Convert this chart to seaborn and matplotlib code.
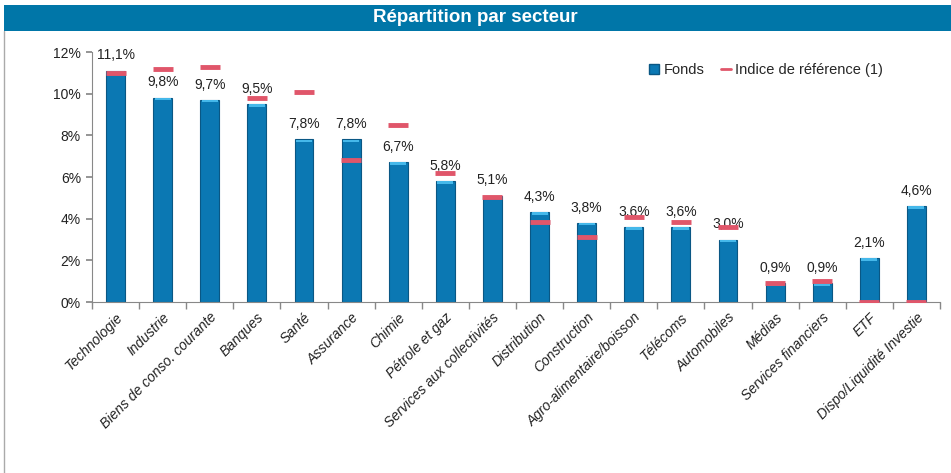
import seaborn as sns
import matplotlib.pyplot as plt
import matplotlib.patches as mpatches
from matplotlib.lines import Line2D

sns.set_theme(style="white")
plt.rcParams['font.family'] = ['Liberation Sans', 'DejaVu Sans']

# Data
sectors = ['Technologie', 'Industrie', 'Biens de conso. courante', 'Banques', 'Santé',
           'Assurance', 'Chimie', 'Pétrole et gaz', 'Services aux collectivités',
           'Distribution', 'Construction', 'Agro-alimentaire/boisson', 'Télécoms',
           'Automobiles', 'Médias', 'Services financiers', 'ETF', 'Dispo/Liquidité Investie']
fonds = [11.1, 9.8, 9.7, 9.5, 7.8, 7.8, 6.7, 5.8, 5.1, 4.3, 3.8, 3.6, 3.6, 3.0, 0.9, 0.9, 2.1, 4.6]
indice = [11.0, 11.2, 11.3, 9.8, 10.1, 6.8, 8.5, 6.2, 5.05, 3.85, 3.1, 4.1, 3.85, 3.6, 0.9, 1.0, 0.0, 0.0]
fonds_labels = ['11,1%', '9,8%', '9,7%', '9,5%', '7,8%', '7,8%', '6,7%', '5,8%', '5,1%',
                '4,3%', '3,8%', '3,6%', '3,6%', '3,0%', '0,9%', '0,9%', '2,1%', '4,6%']
yticks = [0, 2, 4, 6, 8, 10, 12]

bar_color = '#0b78b3'
ref_color = '#e0566a'

fig = plt.figure(figsize=(9.51, 4.73), dpi=100)
ax = fig.add_axes([92/951, 1 - 302/473, 848/951, 250/473])

sns.barplot(x=sectors, y=fonds, width=0.4, color=bar_color, saturation=1,
            edgecolor='#0a5784', linewidth=0.8, ax=ax)
# light cap on top of each bar
sns.barplot(x=sectors, y=[0.12] * len(fonds), bottom=[v - 0.12 for v in fonds], width=0.34,
            color='#45b8ea', saturation=1, linewidth=0, ax=ax)

sns.scatterplot(x=list(range(len(sectors))), y=indice, marker='_', s=190, linewidth=3.5,
                color=ref_color, zorder=5, ax=ax, legend=False)

for i, (v, lab) in enumerate(zip(fonds, fonds_labels)):
    ax.text(i, v + 0.4, lab, ha='center', va='bottom', fontsize=10, color='#222222')

ax.set_ylim(0, 12)
ax.set_xlim(-0.5, len(sectors) - 0.5)
ax.set_yticks(yticks)
ax.set_yticklabels([f'{t}%' for t in yticks], fontsize=10, color='#222222')
ax.set_xticks(range(len(sectors)))
ax.set_xticklabels(sectors, rotation=45, ha='right', rotation_mode='anchor',
                   fontsize=10, style='italic', color='#222222')
ax.tick_params(axis='x', length=0, pad=6)
ax.tick_params(axis='y', length=4, color='#888888', left=True, pad=4)
# category separators on the x axis
ax.set_xticks([i + 0.5 for i in range(-1, len(sectors))], minor=True)
ax.tick_params(axis='x', which='minor', length=5, color='#888888', bottom=True)
for s in ['top', 'right']:
    ax.spines[s].set_visible(False)
for s in ['left', 'bottom']:
    ax.spines[s].set_color('#888888')
    ax.spines[s].set_linewidth(0.8)
ax.set_xlabel('')
ax.set_ylabel('')

handles = [mpatches.Patch(facecolor=bar_color, edgecolor='#0a5784', label='Fonds'),
           Line2D([], [], color=ref_color, linewidth=2, label='Indice de référence (1)')]
fig.legend(handles=handles, loc='upper left', bbox_to_anchor=(636/951, 1 - 50/473),
           ncol=2, frameon=False, fontsize=10.5, handlelength=0.7, handleheight=0.7,
           handletextpad=0.3, columnspacing=1.1)

# title banner
fig.patches.append(mpatches.Rectangle((4/951, 1 - 31/473), 947/951, 26/473,
                                      transform=fig.transFigure, facecolor='#0076a8',
                                      edgecolor='none'))
fig.text(0.5, 1 - 18/473, 'Répartition par secteur', ha='center', va='center',
         fontsize=13.5, fontweight='bold', color='white',
         family=['Liberation Sans Narrow', 'Liberation Sans', 'DejaVu Sans'])
fig.lines.append(Line2D([4/951, 4/951], [0, 1 - 31/473], transform=fig.transFigure,
                        color='#aaaaaa', linewidth=1))

fig.savefig('out.png', dpi=100)
